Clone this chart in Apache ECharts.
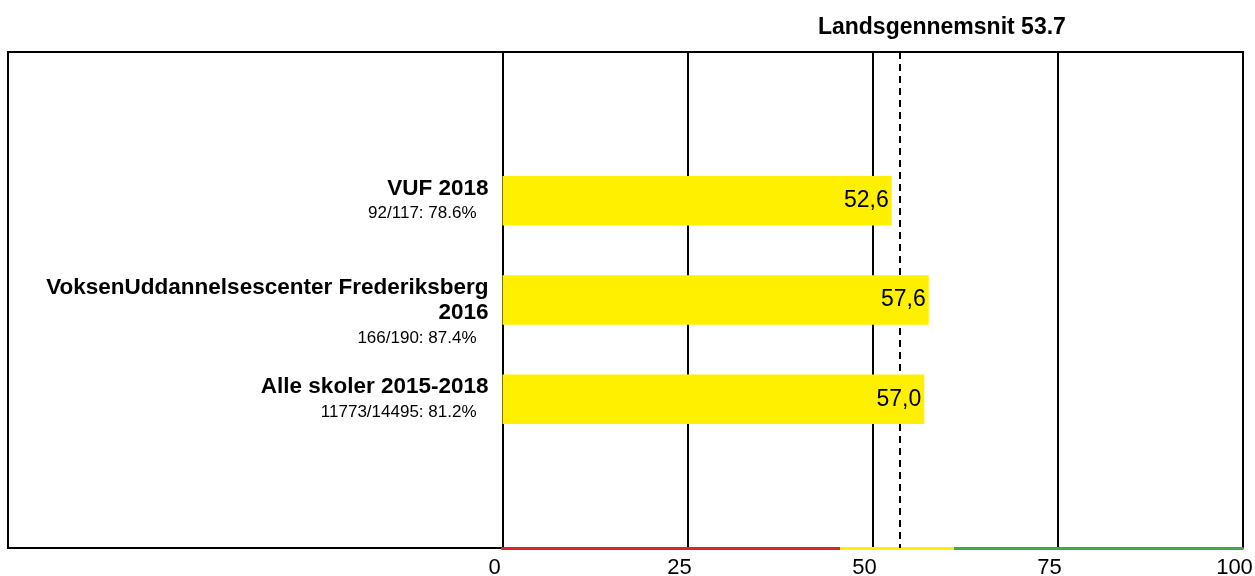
<!DOCTYPE html>
<html>
<head>
<meta charset="utf-8">
<script src="https://cdn.jsdelivr.net/npm/echarts@6/dist/echarts.min.js"></script>
<style>
  html, body { margin: 0; padding: 0; background: #fff; }
  #chart { width: 1255px; height: 576px; }
</style>
</head>
<body>
<div id="chart"></div>
<script>
// ---- data ----
const categories = ['VUF 2018', 'VoksenUddannelsescenter Frederiksberg 2016', 'Alle skoler 2015-2018'];
const subtitles = ['92/117: 78.6%', '166/190: 87.4%', '11773/14495: 81.2%'];
const values = [52.6, 57.6, 57.0];
const nationalAverage = 53.7;
const bandLimits = [45.7, 61.0];
const xTicks = [0, 25, 50, 75, 100];

// ---- styling ----
const FONT = '"Liberation Sans", Arial, sans-serif';
const YELLOW = '#FFF000';
const RED = '#D9252B';
const GREEN = '#3CAA48';

const xMin = xTicks[0], xMax = xTicks[xTicks.length - 1];
const r1 = (bandLimits[0] - xMin) / (xMax - xMin);
const r2 = (bandLimits[1] - xMin) / (xMax - xMin);

function wrapTitle(name) {
  if (name.length <= 30) return [name];
  const i = name.lastIndexOf(' ');
  return [name.slice(0, i), name.slice(i + 1)];
}

const chart = echarts.init(document.getElementById('chart'), null, { renderer: 'canvas' });
chart.setOption({
  animation: false,
  textStyle: { fontFamily: FONT },
  grid: { left: 502.5, right: 12.5, top: 52, bottom: 28, containLabel: false, outerBoundsMode: 'none' },
  graphic: [{
    type: 'rect',
    shape: { x: 8, y: 52, width: 1235, height: 496 },
    style: { fill: 'none', stroke: '#000', lineWidth: 2 },
    z: 0
  }],
  xAxis: {
    type: 'value',
    min: xMin, max: xMax, interval: xTicks[1] - xTicks[0],
    axisLine: {
      show: true,
      lineStyle: {
        width: 3,
        color: new echarts.graphic.LinearGradient(0, 0, 1, 0, [
          { offset: 0, color: RED }, { offset: r1, color: RED },
          { offset: r1, color: YELLOW }, { offset: r2, color: YELLOW },
          { offset: r2, color: GREEN }, { offset: 1, color: GREEN }
        ])
      }
    },
    axisTick: { show: false },
    axisLabel: { color: '#000', fontSize: 22, margin: 9, padding: [0, 16, 0, 0], fontFamily: FONT },
    splitLine: { show: true, lineStyle: { color: '#000', width: 2 } }
  },
  yAxis: {
    type: 'category',
    inverse: true,
    data: categories,
    min: -1, max: categories.length,
    axisLine: { show: true, lineStyle: { color: '#000', width: 2 } },
    axisTick: { show: false },
    splitLine: { show: false },
    axisLabel: {
      interval: 0,
      margin: 14,
      align: 'right',
      color: '#000',
      formatter: function (value, index) {
        const idx = categories.indexOf(value);
        if (idx < 0) return '';
        const lines = wrapTitle(value);
        let s = '';
        for (let k = 1; k < lines.length; k++) s += '{e| }\n';
        s += lines.map(l => '{t|' + l + '}').join('\n');
        s += '\n{s|' + subtitles[idx] + '}';
        return s;
      },
      rich: {
        t: { fontWeight: 'bold', fontSize: 22.5, lineHeight: 25.7, color: '#000', fontFamily: FONT },
        s: { fontSize: 17, lineHeight: 25, color: '#000', padding: [0, 12, 0, 0], fontFamily: FONT },
        e: { fontSize: 10, lineHeight: 25.7 }
      }
    }
  },
  series: [{
    type: 'bar',
    z: 3,
    data: values,
    barWidth: '50%',
    itemStyle: { color: YELLOW },
    label: {
      show: true,
      position: 'insideRight',
      distance: 3,
      color: '#000',
      fontSize: 23,
      fontFamily: FONT,
      formatter: p => p.value.toFixed(1).replace('.', ',')
    },
    markLine: {
      z: 1,
      silent: true,
      symbol: 'none',
      lineStyle: { color: '#000', type: [7, 5], width: 2 },
      label: {
        show: true,
        position: 'start',
        distance: 13,
        offset: [42, 0],
        color: '#000',
        fontWeight: 'bold',
        fontSize: 23,
        fontFamily: FONT,
        formatter: 'Landsgennemsnit ' + nationalAverage
      },
      data: [{ xAxis: nationalAverage }]
    }
  }]
});
</script>
</body>
</html>
